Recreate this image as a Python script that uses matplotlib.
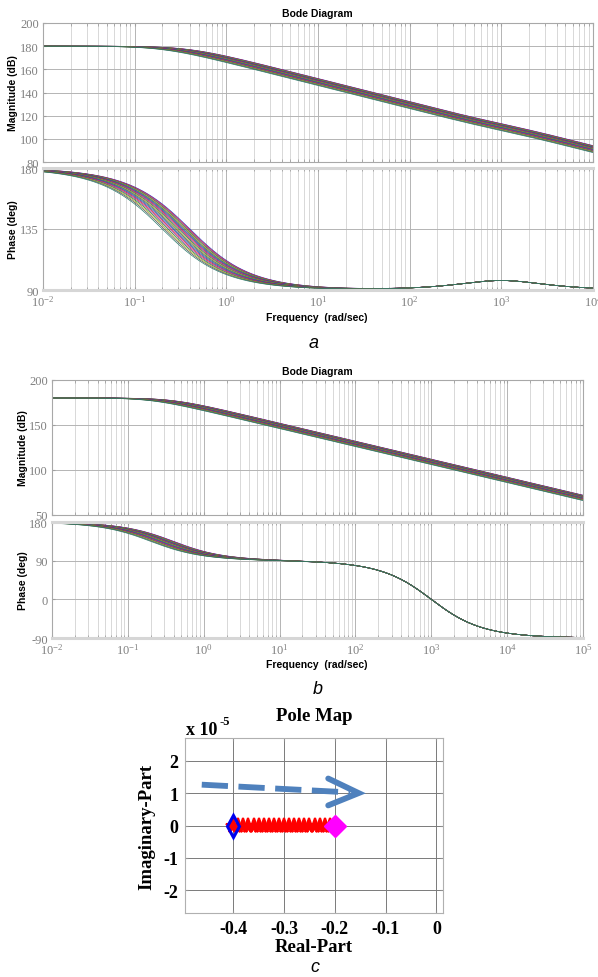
import numpy as np
import matplotlib
matplotlib.use("Agg")
import matplotlib.pyplot as plt
from matplotlib.ticker import LogLocator, LogFormatterMathtext, NullFormatter, FixedLocator

W, H = 598, 978

# swept real pole (rad/s), same values that appear on the pole map
pole_real = [-0.40, -0.39, -0.38, -0.37, -0.36, -0.35, -0.34, -0.33, -0.32, -0.31, -0.30,
             -0.29, -0.28, -0.27, -0.26, -0.25, -0.24, -0.23, -0.22, -0.21, -0.20]
dc_gain_db = 180.0
lead_zero = 885.0        # case a: lead network zero / pole (rad/s)
lead_pole = 1130.0
allpass_corner = 1000.0  # case b: first-order all-pass corner (rad/s)

mag_ticks_a = [80, 100, 120, 140, 160, 180, 200]
phase_ticks_a = [90, 135, 180]
mag_ticks_b = [50, 100, 150, 200]
phase_ticks_b = [-90, 0, 90, 180]
decades_a = (-2, 4)
decades_b = (-2, 5)

# pole map
real_ticks = [-0.4, -0.3, -0.2, -0.1, 0]
imag_ticks = [-2, -1, 0, 1, 2]
arrow_x = [-0.462, -0.17]
arrow_y = [1.26, 1.02]
arrow_head_x = [-0.213, -0.153, -0.213]
arrow_head_y = [1.45, 1.0, 0.62]

line_colors = ['#1f2fd0', '#d02020', '#a020a0', '#208030', '#a8a020', '#505050', '#2a7a6a']

SANS = 'Liberation Sans'
SERIF = 'Liberation Serif'
plt.rcParams['axes.unicode_minus'] = False
plt.rcParams['mathtext.fontset'] = 'stix'


def response(w, p, case):
    s = 1j * w
    k = 10 ** (dc_gain_db / 20) * p
    g = k / (s - p)
    if case == 'a':
        g = g * (1 + s / lead_zero) / (1 + s / lead_pole)
    else:
        g = g * (1 - s / allpass_corner) / (1 + s / allpass_corner)
    mag = 20 * np.log10(np.abs(g))
    ph = np.degrees(np.unwrap(np.angle(g)))
    return mag, ph


def px_axes(fig, l, t, r, b):
    return fig.add_axes([l / W, 1 - b / H, (r - l) / W, (b - t) / H])


def style_bode(ax, decades, yticks, show_x):
    ax.set_xscale('log')
    ax.set_xlim(10.0 ** decades[0], 10.0 ** decades[1])
    ax.set_ylim(yticks[0], yticks[-1])
    ax.yaxis.set_major_locator(FixedLocator(yticks))
    ax.xaxis.set_major_locator(LogLocator(base=10, numticks=20))
    ax.xaxis.set_minor_locator(LogLocator(base=10, subs=np.arange(2, 10), numticks=20))
    ax.xaxis.set_minor_formatter(NullFormatter())
    if show_x:
        ax.xaxis.set_major_formatter(LogFormatterMathtext())
    else:
        ax.xaxis.set_major_formatter(NullFormatter())
    ax.grid(True, which='major', color='#b4b4b4', linewidth=0.7)
    ax.grid(True, which='minor', axis='x', color='#d2d2d2', linewidth=0.6)
    ax.tick_params(which='both', direction='in', top=True, right=True, length=2.5,
                   color='#a0a0a0', labelsize=9, labelcolor='#808080', pad=3)
    for lab in ax.get_xticklabels() + ax.get_yticklabels():
        lab.set_fontfamily(SERIF)
    for sp in ax.spines.values():
        sp.set_color('#a8a8a8')
        sp.set_linewidth(0.8)
    ax.set_axisbelow(True)


def draw_bode(fig, boxes, decades, mag_ticks, phase_ticks, case, title_y, label_x, freq_y):
    w = np.logspace(decades[0], decades[1], 700)
    ax_m = px_axes(fig, *boxes[0])
    ax_p = px_axes(fig, *boxes[1])
    for i, p in enumerate(pole_real):
        mag, ph = response(w, p, case)
        c = line_colors[i % len(line_colors)]
        ax_m.plot(w, mag, color=c, linewidth=0.5)
        ax_p.plot(w, ph, color=c, linewidth=0.5)
    style_bode(ax_m, decades, mag_ticks, False)
    style_bode(ax_p, decades, phase_ticks, True)
    for sp in ('top', 'bottom'):
        ax_p.spines[sp].set_color('#d6d6d6')
        ax_p.spines[sp].set_linewidth(2.2)
    l, t, r, b = boxes[0]
    fig.text(317 / W, 1 - title_y / H, 'Bode Diagram', ha='center', va='center',
             fontsize=7.5, fontweight='bold', family=SANS)
    fig.text(label_x / W, 1 - (t + b) / 2 / H, 'Magnitude (dB)', rotation=90,
             ha='center', va='center', fontsize=7.5, fontweight='bold', family=SANS)
    l, t, r, b = boxes[1]
    fig.text(label_x / W, 1 - (t + b) / 2 / H, 'Phase (deg)', rotation=90,
             ha='center', va='center', fontsize=7.5, fontweight='bold', family=SANS)
    fig.text(317 / W, 1 - freq_y / H, 'Frequency  (rad/sec)', ha='center', va='center',
             fontsize=7.5, fontweight='bold', family=SANS)


fig = plt.figure(figsize=(W / 100, H / 100), dpi=100)

draw_bode(fig, [(43, 24, 593, 163), (43, 169, 593, 291)], decades_a,
          mag_ticks_a, phase_ticks_a, 'a', 14, 13, 318)
fig.text(314 / W, 1 - 343 / H, 'a', ha='center', va='center', fontsize=13,
         style='italic', family=SANS)

draw_bode(fig, [(52, 381, 583, 516), (52, 523, 583, 639)], decades_b,
          mag_ticks_b, phase_ticks_b, 'b', 372, 23, 665)
fig.text(318 / W, 1 - 689 / H, 'b', ha='center', va='center', fontsize=13,
         style='italic', family=SANS)

# pole map
ax = px_axes(fig, 185, 739, 443, 914)
ax.set_xlim(-0.495, 0.013)
ax.set_ylim(-2.7, 2.7)
ax.set_xticks(real_ticks)
ax.set_yticks(imag_ticks)
ax.set_xticklabels(['%g' % v for v in real_ticks])
ax.grid(True, color='#7a7a7a', linewidth=0.7)
ax.set_axisbelow(True)
ax.tick_params(direction='in', top=True, right=True, length=2.5, color='#909090',
               labelsize=13, pad=5)
for lab in ax.get_xticklabels() + ax.get_yticklabels():
    lab.set_fontfamily(SERIF)
    lab.set_fontweight('bold')
for sp in ax.spines.values():
    sp.set_color('#b0b0b0')
    sp.set_linewidth(0.8)

ax.plot(arrow_x, arrow_y, color='#4f81bd', linewidth=4.2, dashes=(4.5, 1.8))
ax.plot(arrow_head_x, arrow_head_y, color='#4f81bd', linewidth=4.2,
        solid_capstyle='round', solid_joinstyle='miter')
ax.plot(pole_real, [0] * len(pole_real), linestyle='none', marker='*',
        color='red', markersize=11, markeredgewidth=1.5, zorder=3)
ax.plot(pole_real[0], 0, marker='d', markersize=11, markerfacecolor='none',
        markeredgecolor='#0000ee', markeredgewidth=2.2, zorder=4)
ax.plot(pole_real[-1], 0, marker='D', markersize=11, color='#ff00ff', zorder=4)

ax.set_xlabel('Real-Part', fontsize=13.5, fontweight='bold', family=SERIF, labelpad=1)
ax.set_ylabel('Imaginary-Part', fontsize=13.5, fontweight='bold', family=SERIF, labelpad=6)
ax.set_title('Pole Map', fontsize=13.5, fontweight='bold', family=SERIF, pad=13)
fig.text(186 / W, 1 - 731 / H, 'x 10', ha='left', va='center', fontsize=13,
         fontweight='bold', family=SERIF)
fig.text(220 / W, 1 - 722 / H, '-5', ha='left', va='center', fontsize=9,
         fontweight='bold', family=SERIF)
fig.text(315 / W, 1 - 968 / H, 'c', ha='center', va='center', fontsize=13,
         style='italic', family=SANS)

fig.savefig('out.png', dpi=100)
